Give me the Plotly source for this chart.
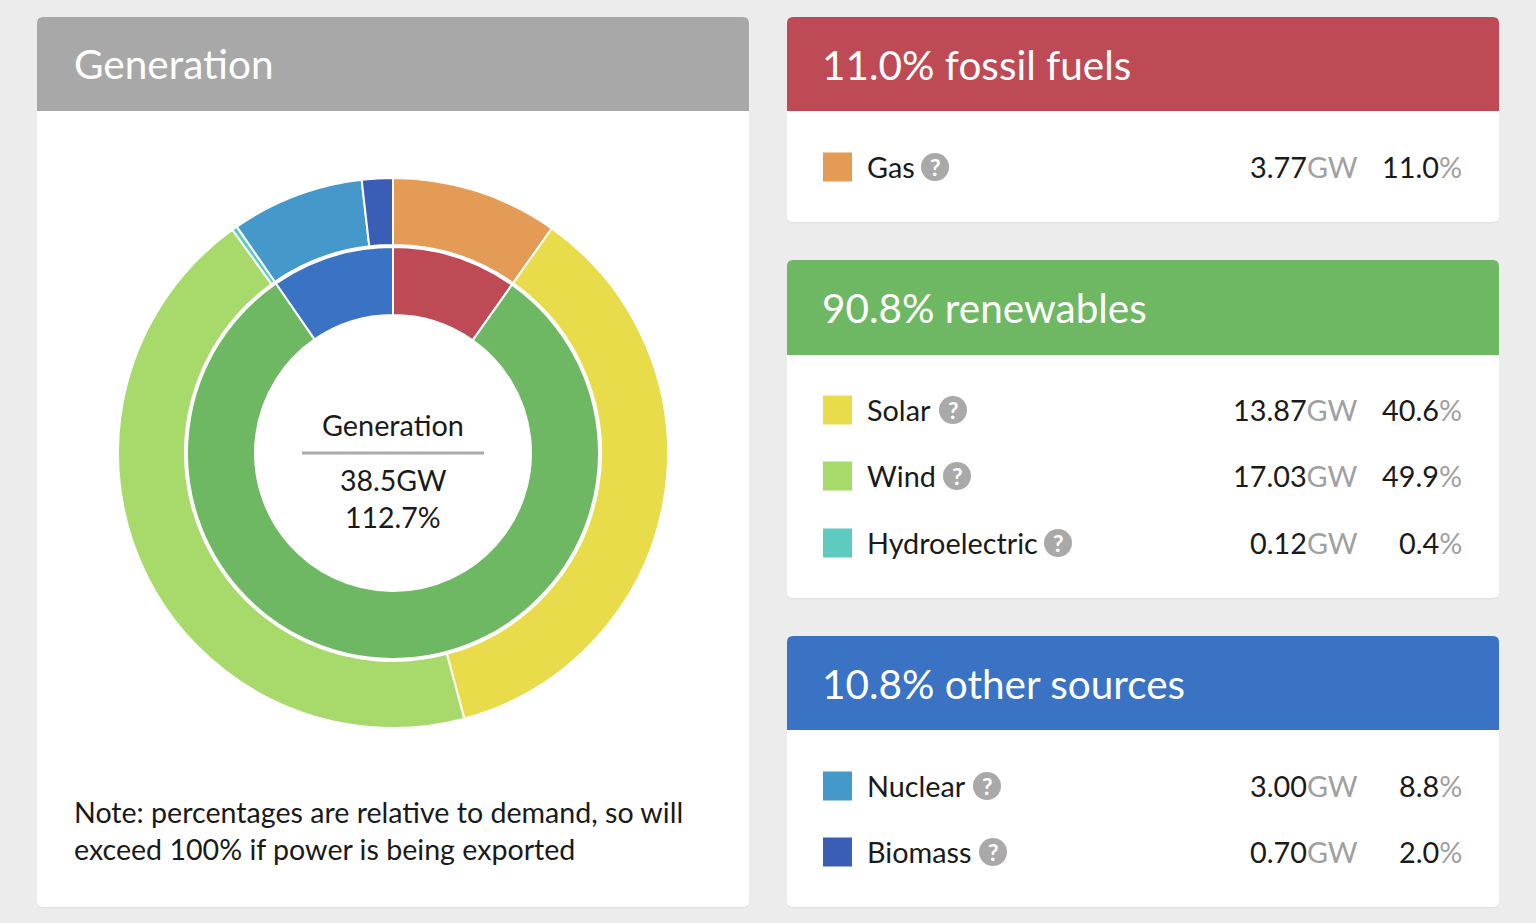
import plotly.graph_objects as go

W, H = 1536, 923

# ---------------- data ----------------
sources = ["Gas", "Solar", "Wind", "Hydroelectric", "Nuclear", "Biomass"]
source_gw = [3.77, 13.87, 17.03, 0.12, 3.00, 0.70]
source_pct = [11.0, 40.6, 49.9, 0.4, 8.8, 2.0]
source_colors = ["#e39b55", "#e8dc4a", "#a7da6a", "#5dcbc0", "#4598ca", "#3a5db5"]

groups = ["fossil fuels", "renewables", "other sources"]
group_gw = [3.77, 31.02, 3.70]
group_pct = [11.0, 90.8, 10.8]
group_colors = ["#be4a56", "#6eb863", "#3a73c4"]
group_members = [["Gas"], ["Solar", "Wind", "Hydroelectric"], ["Nuclear", "Biomass"]]

total_gw = 38.5
total_pct = 112.7
panel_title = "Generation"
note_lines = ["Note: percentages are relative to demand, so will",
              "exceed 100% if power is being exported"]

FONT = "Lato"
PAD = 3  # annotation internal padding in px


def px(x):
    return x / W


def py(y):
    return 1 - y / H


def rrect(x0, y0, x1, y1, r_top, r_bot):
    def P(x, y):
        return f"{px(x):.6f},{py(y):.6f}"
    d = f"M {P(x0 + r_top, y0)} L {P(x1 - r_top, y0)} Q {P(x1, y0)} {P(x1, y0 + r_top)} "
    d += f"L {P(x1, y1 - r_bot)} Q {P(x1, y1)} {P(x1 - r_bot, y1)} "
    d += f"L {P(x0 + r_bot, y1)} Q {P(x0, y1)} {P(x0, y1 - r_bot)} "
    d += f"L {P(x0, y0 + r_top)} Q {P(x0, y0)} {P(x0 + r_top, y0)} Z"
    return d


shapes = []
annotations = []


def card(x0, y0, x1, y_head, y1, head_color):
    shapes.append(dict(type="path", xref="paper", yref="paper", layer="below",
                       path=rrect(x0, y0 + 1.5, x1, y1 + 1.5, 6, 6),
                       fillcolor="#e2e2e2", line=dict(width=0)))
    shapes.append(dict(type="path", xref="paper", yref="paper", layer="below",
                       path=rrect(x0, y0, x1, y1, 6, 6),
                       fillcolor="white", line=dict(width=0)))
    shapes.append(dict(type="path", xref="paper", yref="paper", layer="below",
                       path=rrect(x0, y0, x1, y_head, 6, 0),
                       fillcolor=head_color, line=dict(width=0)))


def text(x, y, s, size, color="#1a1a1a", xanchor="left"):
    if xanchor == "left":
        x -= PAD
    elif xanchor == "right":
        x += PAD
    annotations.append(dict(x=px(x), y=py(y), xref="paper", yref="paper", text=s,
                            showarrow=False, xanchor=xanchor, yanchor="middle",
                            font=dict(family=FONT, size=size, color=color)))


# left panel
card(37, 17, 749, 111, 907, "#a8a8a8")
text(75, 63, panel_title, 40.5, "white")

# right cards
card_specs = [(17, 111, 222), (260, 355, 598), (636, 730, 907)]
row_ys = {"Gas": 167, "Solar": 410, "Wind": 476, "Hydroelectric": 543,
          "Nuclear": 786, "Biomass": 852}
qmark_x = {"Gas": 935, "Solar": 953, "Wind": 957, "Hydroelectric": 1058,
           "Nuclear": 987, "Biomass": 993}

for gi, (g, (y0, yh, y1)) in enumerate(zip(groups, card_specs)):
    card(787, y0, 1499, yh, y1, group_colors[gi])
    text(823, (y0 + yh) / 2, f"{group_pct[gi]:.1f}% {g}", 40.5, "white")
    for s in group_members[gi]:
        i = sources.index(s)
        yy = row_ys[s]
        shapes.append(dict(type="rect", xref="paper", yref="paper",
                           x0=px(823), x1=px(852), y0=py(yy - 14.5), y1=py(yy + 14.5),
                           fillcolor=source_colors[i], line=dict(width=0)))
        text(868, yy, s, 28.8)
        qx = qmark_x[s]
        shapes.append(dict(type="circle", xref="paper", yref="paper",
                           x0=px(qx - 14), x1=px(qx + 14), y0=py(yy - 14), y1=py(yy + 14),
                           fillcolor="#a9a9a9", line=dict(width=0)))
        annotations.append(dict(x=px(qx), y=py(yy), xref="paper", yref="paper", text="<b>?</b>",
                                showarrow=False, xanchor="center", yanchor="middle",
                                font=dict(family=FONT, size=23, color="white")))
        text(1357, yy, f"{source_gw[i]:.2f}<span style='color:#a0a0a0'>GW</span>", 28.8,
             xanchor="right")
        text(1461, yy, f"{source_pct[i]:.1f}<span style='color:#a0a0a0'>%</span>", 28.8,
             xanchor="right")

# centre text
text(393, 425, panel_title, 28.8, xanchor="center")
shapes.append(dict(type="line", xref="paper", yref="paper", x0=px(302), x1=px(484),
                   y0=py(453), y1=py(453), line=dict(color="#aaaaaa", width=3)))
text(393, 480, f"{total_gw:.1f}GW", 28.5, xanchor="center")
text(393, 517, f"{total_pct:.1f}%", 28.5, xanchor="center")

# note
text(75, 812, note_lines[0], 28.6)
text(75, 849, note_lines[1], 28.6)

# donut rings
cx, cy = 393, 453
R_out, r_out = 275, 208
R_in, r_in = 206, 138

outer = go.Pie(labels=sources, values=source_gw, sort=False, direction="clockwise",
               rotation=0, hole=r_out / R_out, textinfo="none", hoverinfo="label+value",
               marker=dict(colors=source_colors, line=dict(color="white", width=2)),
               domain=dict(x=[px(cx - R_out), px(cx + R_out)],
                           y=[py(cy + R_out), py(cy - R_out)]),
               showlegend=False)
inner = go.Pie(labels=groups, values=group_gw, sort=False, direction="clockwise",
               rotation=0, hole=r_in / R_in, textinfo="none", hoverinfo="label+value",
               marker=dict(colors=group_colors, line=dict(color="white", width=2)),
               domain=dict(x=[px(cx - R_in), px(cx + R_in)],
                           y=[py(cy + R_in), py(cy - R_in)]),
               showlegend=False)

fig = go.Figure([outer, inner])
fig.update_layout(width=W, height=H, margin=dict(l=0, r=0, t=0, b=0),
                  paper_bgcolor="#ececec", plot_bgcolor="#ececec",
                  shapes=shapes, annotations=annotations, showlegend=False,
                  font=dict(family=FONT))
fig.write_html("out.html")
